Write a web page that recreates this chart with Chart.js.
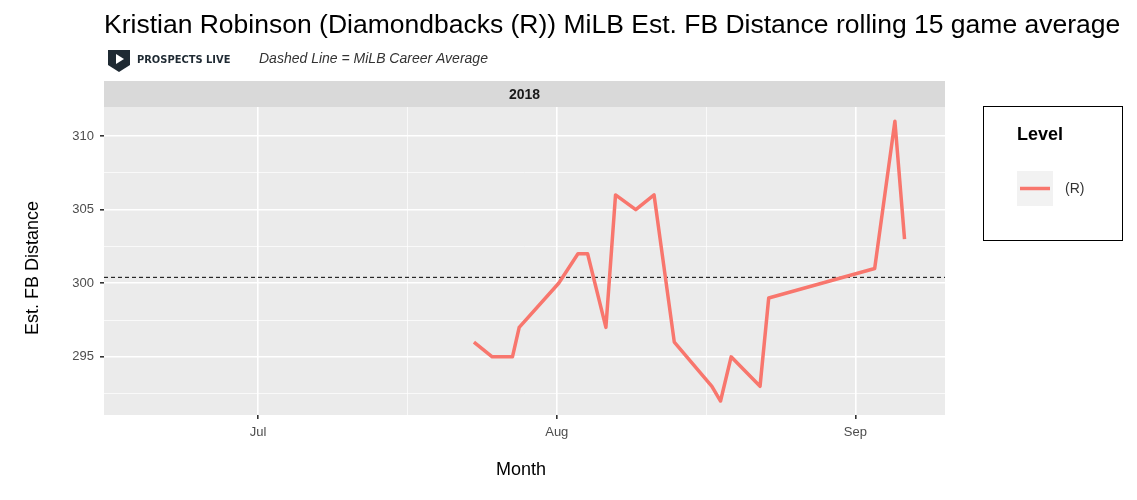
<!DOCTYPE html>
<html><head><meta charset="utf-8">
<script src="https://cdn.jsdelivr.net/npm/chart.js@4"></script>
<style>body{margin:0;background:#fff}#wrap{width:1137px;height:500px;position:relative}</style>
</head><body><div id="wrap"><canvas id="chart" width="1137" height="500"></canvas></div>
<script>
// days counted from Jul 1 2018
const days = [22.4,24.3,26.4,27.1,31.2,33.2,34.2,36.1,37.1,39.2,41.1,43.2,47.1,48,49.1,52.1,53,64,66.1,67.1]
const distance = [296,295,295,297,300,302,302,297,306,305,306,296,293,292,295,293,299,301,311,303]
const careerAvg = 300.4
const majorX = [0,31,62]
const monthLabels = {0:"Jul",31:"Aug",62:"Sep"}
const minorX = [15.5,46.5]
const yTicks = [292.5,295,297.5,300,302.5,305,307.5,310]

const xMin = -16, xMax = 71.3

const decor = {
id:"decor",
beforeDraw(c){
const ctx=c.ctx, a=c.chartArea
ctx.save()
ctx.fillStyle="#EBEBEB"
ctx.fillRect(a.left,a.top,a.right-a.left,a.bottom-a.top)
ctx.fillStyle="#D9D9D9"
ctx.fillRect(a.left,81,a.right-a.left,26)
ctx.fillStyle="#1a1a1a"
ctx.font="bold 14px Arial, 'Liberation Sans'"
ctx.textAlign="center";ctx.textBaseline="middle"
ctx.fillText("2018",(a.left+a.right)/2,95)
ctx.restore()
},
afterDraw(c){
const ctx=c.ctx
ctx.save()
ctx.fillStyle="#000"
ctx.font="26.5px Arial, 'Liberation Sans'"
ctx.textAlign="left";ctx.textBaseline="middle"
ctx.fillText("Kristian Robinson (Diamondbacks (R)) MiLB Est. FB Distance rolling 15 game average",104,26)
// logo
ctx.fillStyle="#1f2a33"
ctx.beginPath();ctx.moveTo(108,50);ctx.lineTo(130,50);ctx.lineTo(130,65);ctx.lineTo(119,72);ctx.lineTo(108,65);ctx.closePath();ctx.fill()
ctx.fillStyle="#fff"
ctx.beginPath();ctx.moveTo(116,54);ctx.lineTo(124,59);ctx.lineTo(116,64);ctx.closePath();ctx.fill()
ctx.fillStyle="#1f2a33"
ctx.font="bold 11px 'DejaVu Sans Condensed', 'Liberation Sans Narrow', Arial"
ctx.fillText("PROSPECTS LIVE",137,60)
ctx.fillStyle="#333"
ctx.font="italic 14px Arial, 'Liberation Sans'"
ctx.fillText("Dashed Line = MiLB Career Average",259,59)
// axis titles
ctx.fillStyle="#000"
ctx.font="18px Arial, 'Liberation Sans'"
ctx.textAlign="center"
ctx.fillText("Month",521,470)
ctx.translate(33,268);ctx.rotate(-Math.PI/2);ctx.fillText("Est. FB Distance",0,0)
ctx.restore()
// legend
ctx.save()
ctx.strokeStyle="#000";ctx.lineWidth=1
ctx.strokeRect(983.5,106.5,139,134)
ctx.fillStyle="#000";ctx.font="bold 18px Arial, 'Liberation Sans'"
ctx.textBaseline="middle"
ctx.fillText("Level",1017,135)
ctx.fillStyle="#F2F2F2";ctx.fillRect(1017,171,36,35)
ctx.strokeStyle="#F8766D";ctx.lineWidth=3.5
ctx.beginPath();ctx.moveTo(1020,188.5);ctx.lineTo(1050,188.5);ctx.stroke()
ctx.fillStyle="#333";ctx.font="14px Arial, 'Liberation Sans'"
ctx.fillText("(R)",1065,189)
ctx.restore()
}
}

chart = new Chart(document.getElementById("chart"),{
type:"line",
data:{
datasets:[{
data: days.map((d,i)=>({x:d,y:distance[i]})),
borderColor:"#F8766D",
borderWidth:3.5,
borderJoinStyle:"round",
pointRadius:0,
tension:0,
fill:false
},{
data:[{x:xMin,y:careerAvg},{x:xMax,y:careerAvg}],
borderColor:"#000",
borderWidth:1,
borderDash:[4,3],
pointRadius:0
}]
},
options:{
responsive:false,
animation:false,
layout:{padding:{top:107,right:192,left:0,bottom:0}},
plugins:{legend:{display:false},tooltip:{enabled:false}},
scales:{
x:{
type:"linear",min:xMin,max:xMax,
afterBuildTicks(s){s.ticks=[...majorX,...minorX].sort((a,b)=>a-b).map(v=>({value:v}))},
afterFit(s){s.height=85},
border:{display:false},
grid:{color:"#fff",lineWidth:ctx=>majorX.includes(ctx.tick&&ctx.tick.value)?1.6:0.7,drawTicks:true,tickLength:4,tickColor:ctx=>majorX.includes(ctx.tick&&ctx.tick.value)?"#333":"rgba(0,0,0,0)"},
ticks:{callback:v=>monthLabels[v]||"",color:"#4d4d4d",font:{size:13,family:"Arial, 'Liberation Sans'"},padding:6,maxRotation:0,autoSkip:false}
},
y:{
min:291.05,max:311.97,
afterBuildTicks(s){s.ticks=yTicks.map(v=>({value:v}))},
afterFit(s){s.width=104},
border:{display:false},
grid:{color:"#fff",lineWidth:ctx=>(ctx.tick&&ctx.tick.value%5===0)?1.6:0.7,tickLength:4,tickColor:ctx=>(ctx.tick&&ctx.tick.value%5===0)?"#333":"rgba(0,0,0,0)"},
ticks:{callback:v=>v%5===0?v:"",color:"#4d4d4d",font:{size:13,family:"Arial, 'Liberation Sans'"},padding:6,autoSkip:false}
}
}
},
plugins:[decor]
})
</script></body></html>
